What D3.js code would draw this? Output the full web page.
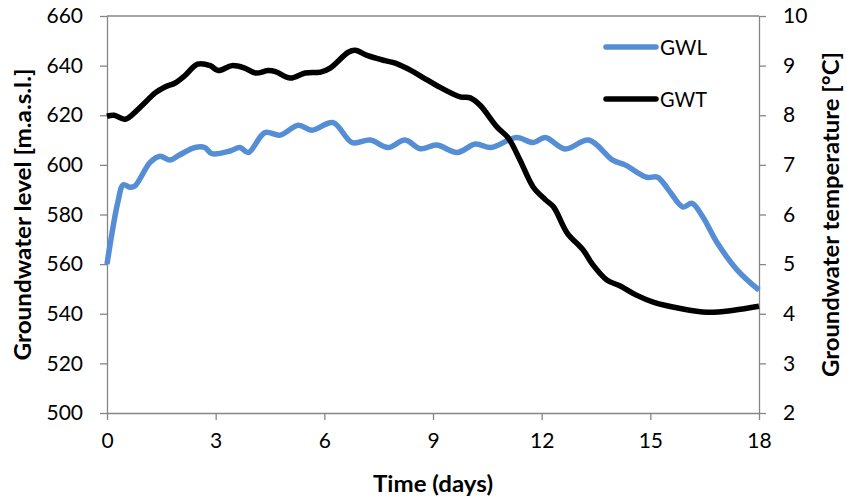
<!DOCTYPE html>
<html>
<head>
<meta charset="utf-8">
<script src="https://cdn.jsdelivr.net/npm/d3@7"></script>
<style>
  body { margin: 0; background: #fff; }
  svg text { font-family: Lato, "Open Sans", sans-serif; }
</style>
</head>
<body>
<div id="chart"></div>
<script>
// data
var gwl_t = [0, 0.3, 0.45, 0.63, 0.77, 1.19, 1.46, 1.74, 2.0, 2.43, 2.7, 2.9, 3.4, 3.67, 3.9, 4.36, 4.78, 5.28, 5.66, 6.24, 6.77, 7.27, 7.76, 8.23, 8.65, 9.1, 9.67, 10.17, 10.6, 11.3, 11.77, 12.1, 12.65, 13.3, 13.95, 14.3, 14.9, 15.2, 15.5, 15.9, 16.15, 16.45, 16.85, 17.4, 18]
var gwl_v = [560, 585, 592, 591, 591.5, 601, 603.5, 602, 604, 607, 607, 604.5, 605.6, 607, 605, 613, 612, 616, 614, 617, 609, 610, 607, 610, 606.5, 608, 605, 608.4, 607, 611, 609, 611, 606.4, 610, 602, 600, 595, 595, 590, 583, 584.5, 579, 568.5, 557.6, 549.5]

var gwt_t = [0, 0.2, 0.5, 0.9, 1.33, 1.6, 1.88, 2.15, 2.5, 2.85, 3.07, 3.45, 3.8, 4.1, 4.45, 4.65, 5.06, 5.47, 5.9, 6.16, 6.66, 6.85, 7.2, 7.68, 7.96, 8.4, 8.75, 9.1, 9.75, 10.03, 10.3, 10.77, 11.08, 11.4, 11.77, 12.1, 12.33, 12.7, 13.15, 13.4, 13.8, 14.17, 14.6, 15.1, 15.8, 16.57, 17.3, 18]
var gwt_v = [7.98, 8.0, 7.92, 8.15, 8.45, 8.57, 8.65, 8.8, 9.03, 9.0, 8.9, 9.0, 8.95, 8.85, 8.9, 8.88, 8.75, 8.85, 8.87, 8.95, 9.27, 9.31, 9.2, 9.1, 9.05, 8.9, 8.75, 8.6, 8.37, 8.35, 8.2, 7.76, 7.54, 7.1, 6.55, 6.3, 6.15, 5.63, 5.28, 5.0, 4.68, 4.56, 4.38, 4.23, 4.11, 4.03, 4.07, 4.15]

var x_ticks = [0, 3, 6, 9, 12, 15, 18]
var left_ticks = [500, 520, 540, 560, 580, 600, 620, 640, 660]
var right_ticks = [2, 3, 4, 5, 6, 7, 8, 9, 10]

var w = 847, h = 502
var plot_left = 107, plot_right = 759, plot_top = 16, plot_bottom = 413
var axis_col = "#868686"

var svg = d3.select("#chart").append("svg")
  .attr("width", w).attr("height", h)

var x = d3.scaleLinear().domain([0, 18]).range([plot_left, plot_right])
var yl = d3.scaleLinear().domain([500, 660]).range([plot_bottom, plot_top])
var yr = d3.scaleLinear().domain([2, 10]).range([plot_bottom, plot_top])

// plot border (top)
svg.append("line")
  .attr("x1", plot_left).attr("x2", plot_right).attr("y1", plot_top).attr("y2", plot_top)
  .attr("stroke", axis_col).attr("stroke-width", 1.3)

var style_axis = function(g) {
  g.select(".domain").attr("stroke", axis_col).attr("stroke-width", 1.3)
  g.selectAll(".tick line").attr("stroke", axis_col).attr("stroke-width", 1.3)
  g.selectAll(".tick text").attr("fill", "#000").style("font-size", "21px")
    .style("font-family", "Lato, 'Open Sans', sans-serif")
}

svg.append("g")
  .attr("transform", "translate(0," + plot_bottom + ")")
  .call(d3.axisBottom(x).tickValues(x_ticks).tickSize(7).tickSizeOuter(0).tickPadding(13))
  .call(style_axis)

svg.append("g")
  .attr("transform", "translate(" + plot_left + ",0)")
  .call(d3.axisLeft(yl).tickValues(left_ticks).tickSize(7).tickSizeOuter(0).tickPadding(17))
  .call(style_axis)

svg.append("g")
  .attr("transform", "translate(" + plot_right + ",0)")
  .call(d3.axisRight(yr).tickValues(right_ticks).tickSize(7).tickSizeOuter(0).tickPadding(17))
  .call(style_axis)

// axis titles
var mid_y = (plot_top + plot_bottom) / 2
svg.append("text")
  .attr("x", 433).attr("y", 492)
  .attr("text-anchor", "middle")
  .attr("textLength", 120).attr("lengthAdjust", "spacingAndGlyphs")
  .style("font-size", "22px").style("font-weight", "bold")
  .text("Time (days)")

svg.append("text")
  .attr("transform", "translate(31," + mid_y + ") rotate(-90)")
  .attr("text-anchor", "middle")
  .attr("textLength", 292).attr("lengthAdjust", "spacingAndGlyphs")
  .style("font-size", "22px").style("font-weight", "bold")
  .text("Groundwater level [m.a.s.l.]")

svg.append("text")
  .attr("transform", "translate(839," + mid_y + ") rotate(-90)")
  .attr("text-anchor", "middle")
  .attr("textLength", 325).attr("lengthAdjust", "spacingAndGlyphs")
  .style("font-size", "22px").style("font-weight", "bold")
  .text("Groundwater temperature [°C]")

// lines
var gwl_line = d3.line()
  .x(function(d, i){ return x(gwl_t[i]) })
  .y(function(d){ return yl(d) })
  .curve(d3.curveCatmullRom)

var gwt_line = d3.line()
  .x(function(d, i){ return x(gwt_t[i]) })
  .y(function(d){ return yr(d) })
  .curve(d3.curveCatmullRom)

svg.append("path")
  .attr("d", gwl_line(gwl_v))
  .attr("fill", "none").attr("stroke", "#558ed5").attr("stroke-width", 5.5)
  .attr("stroke-linejoin", "round")

svg.append("path")
  .attr("d", gwt_line(gwt_v))
  .attr("fill", "none").attr("stroke", "#000").attr("stroke-width", 5.5)
  .attr("stroke-linejoin", "round")

// legend
var legend = [{name: "GWL", col: "#558ed5", y: 47}, {name: "GWT", col: "#000", y: 99}]
var lg = svg.selectAll(".legend").data(legend).enter().append("g").attr("class", "legend")
lg.append("line")
  .attr("x1", 606).attr("x2", 656)
  .attr("y1", function(d){ return d.y }).attr("y2", function(d){ return d.y })
  .attr("stroke", function(d){ return d.col }).attr("stroke-width", 5.5)
  .attr("stroke-linecap", "round")
lg.append("text")
  .attr("x", 660).attr("y", function(d){ return d.y + 7.5 })
  .attr("textLength", 47).attr("lengthAdjust", "spacingAndGlyphs")
  .style("font-size", "21px")
  .text(function(d){ return d.name })
</script>
</body>
</html>
